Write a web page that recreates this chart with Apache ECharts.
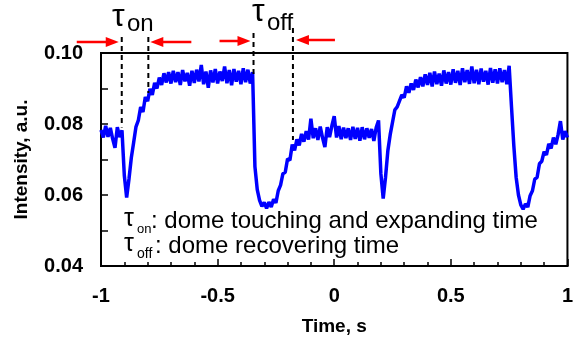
<!DOCTYPE html>
<html>
<head>
<meta charset="utf-8">
<script src="https://cdn.jsdelivr.net/npm/echarts@6/dist/echarts.min.js"></script>
<style>
  html, body { margin: 0; padding: 0; background: #fff; }
  #chartContainer { width: 576px; height: 341px; }
</style>
</head>
<body>
<div id="chartContainer"></div>
<script>
// time axis samples, s
const timeS = [
  -1.00, -0.99, -0.98, -0.97, -0.96, -0.95, -0.94, -0.93, -0.92, -0.91,
  -0.90, -0.89, -0.88, -0.87, -0.86, -0.85, -0.84, -0.83, -0.82, -0.81,
  -0.80, -0.79, -0.78, -0.77, -0.76, -0.75, -0.74, -0.73, -0.72, -0.71,
  -0.70, -0.69, -0.68, -0.67, -0.66, -0.65, -0.64, -0.63, -0.62, -0.61,
  -0.60, -0.59, -0.58, -0.57, -0.56, -0.55, -0.54, -0.53, -0.52, -0.51,
  -0.50, -0.49, -0.48, -0.47, -0.46, -0.45, -0.44, -0.43, -0.42, -0.41,
  -0.40, -0.39, -0.38, -0.37, -0.36, -0.35, -0.34, -0.33, -0.32, -0.31,
  -0.30, -0.29, -0.28, -0.27, -0.26, -0.25, -0.24, -0.23, -0.22, -0.21,
  -0.20, -0.19, -0.18, -0.17, -0.16, -0.15, -0.14, -0.13, -0.12, -0.11,
  -0.10, -0.09, -0.08, -0.07, -0.06, -0.05, -0.04, -0.03, -0.02, -0.01,
   0.00,  0.01,  0.02,  0.03,  0.04,  0.05,  0.06,  0.07,  0.08,  0.09,
   0.10,  0.11,  0.12,  0.13,  0.14,  0.15,  0.16,  0.17,  0.18,  0.19,
   0.20,  0.21,  0.22,  0.23,  0.24,  0.25,  0.26,  0.27,  0.28,  0.29,
   0.30,  0.31,  0.32,  0.33,  0.34,  0.35,  0.36,  0.37,  0.38,  0.39,
   0.40,  0.41,  0.42,  0.43,  0.44,  0.45,  0.46,  0.47,  0.48,  0.49,
   0.50,  0.51,  0.52,  0.53,  0.54,  0.55,  0.56,  0.57,  0.58,  0.59,
   0.60,  0.61,  0.62,  0.63,  0.64,  0.65,  0.66,  0.67,  0.68,  0.69,
   0.70,  0.71,  0.72,  0.73,  0.74,  0.75,  0.76,  0.77,  0.78,  0.79,
   0.80,  0.81,  0.82,  0.83,  0.84,  0.85,  0.86,  0.87,  0.88,  0.89,
   0.90,  0.91,  0.92,  0.93,  0.94,  0.95,  0.96,  0.97,  0.98,  0.99, 1.00
];

// intensity, a.u.
const intensity = [
  .0783, .0762, .0795, .0764, .0789, .0758, .0733, .0791, .0763, .0782,
  .0655, .0593, .0645, .0705, .0748, .0792, .0810, .0848, .0834, .0876,
  .0864, .0899, .0882, .0916, .0900, .0931, .0910, .0943, .0917, .0946,
  .0914, .0950, .0918, .0946, .0910, .0952, .0920, .0944, .0908, .0950,
  .0916, .0953, .0920, .0966, .0912, .0948, .0902, .0951, .0917, .0955,
  .0914, .0948, .0921, .0962, .0915, .0952, .0909, .0955, .0919, .0950,
  .0912, .0957, .0918, .0953, .0914, .0946, .0680, .0615, .0585, .0568,
  .0579, .0562, .0580, .0566, .0588, .0578, .0612, .0628, .0660, .0664,
  .0702, .0698, .0742, .0726, .0757, .0740, .0772, .0750, .0780, .0756,
  .0815, .0760, .0788, .0755, .0793, .0761, .0735, .0791, .0763, .0795,
  .0822, .0762, .0794, .0757, .0790, .0760, .0788, .0755, .0792, .0758,
  .0789, .0753, .0791, .0757, .0788, .0761, .0786, .0752, .0790, .0810,
  .0660, .0590, .0650, .0725, .0770, .0805, .0840, .0848, .0865, .0882,
  .0874, .0906, .0888, .0914, .0896, .0925, .0903, .0932, .0906, .0940,
  .0910, .0944, .0906, .0948, .0912, .0942, .0908, .0951, .0914, .0946,
  .0911, .0954, .0916, .0950, .0910, .0957, .0918, .0952, .0913, .0962,
  .0915, .0953, .0912, .0956, .0919, .0950, .0911, .0958, .0916, .0954,
  .0914, .0957, .0918, .0952, .0912, .0964, .0850, .0740, .0650, .0600,
  .0572, .0560, .0575, .0566, .0598, .0612, .0645, .0650, .0688, .0695,
  .0722, .0713, .0744, .0731, .0762, .0743, .0770, .0808, .0756, .0780, .0762
];

// marker times (s) and the intensity where each dashed line stops
const tauOnTimes = [-0.911, -0.797];
const tauOnEnds = [0.079, 0.0887];
const tauOffTimes = [-0.346, -0.177];
const tauOffEnds = [0.094, 0.0755];

const FONT = 'Liberation Sans, Arial, Helvetica, sans-serif';

const chart = echarts.init(document.getElementById('chartContainer'));

const option = {
    animation: false,
    grid: {
        left: 101, right: 1, top: 53, bottom: 75,
        show: true, borderColor: '#000', borderWidth: 2
    },
    xAxis: {
        type: 'value',
        min: -1, max: 1, interval: 0.5,
        name: 'Time, s',
        nameLocation: 'middle',
        nameGap: 51,
        nameTextStyle: { fontFamily: FONT, fontWeight: 'bold', fontSize: 19, color: '#000' },
        axisLine: { onZero: false, lineStyle: { color: '#000', width: 2 } },
        axisTick: { inside: true, length: 7, lineStyle: { color: '#000', width: 1.5 } },
        minorTick: { show: true, splitNumber: 5, length: 4, lineStyle: { color: '#000', width: 1.5 } },
        splitLine: { show: false },
        axisLabel: { fontFamily: FONT, fontWeight: 'bold', fontSize: 20, color: '#000', margin: 20 }
    },
    yAxis: {
        type: 'value',
        min: 0.04, max: 0.10, interval: 0.02,
        name: 'Intensity, a.u.',
        nameLocation: 'middle',
        nameGap: 70,
        nameTextStyle: { fontFamily: FONT, fontWeight: 'bold', fontSize: 19, color: '#000' },
        axisLine: { onZero: false, lineStyle: { color: '#000', width: 2 } },
        axisTick: { inside: true, length: 7, lineStyle: { color: '#000', width: 1.5 } },
        minorTick: { show: true, splitNumber: 2, length: 7, lineStyle: { color: '#000', width: 1.5 } },
        splitLine: { show: false },
        axisLabel: {
            fontFamily: FONT, fontWeight: 'bold', fontSize: 20, color: '#000', margin: 18,
            formatter: v => v.toFixed(2)
        }
    },
    series: [{
        type: 'line',
        data: timeS.map((t, i) => [t, intensity[i]]),
        showSymbol: false,
        lineStyle: { color: '#0000ff', width: 3.5 },
        z: 2
    }]
};

chart.setOption(option);

function toPx(t, v) {
    return chart.convertToPixel({ gridIndex: 0 }, [t, v]);
}

function dashed(t, endVal, topY) {
    const p = toPx(t, endVal);
    return {
        type: 'line', z: 10,
        shape: { x1: p[0], y1: topY, x2: p[0], y2: p[1] },
        style: { stroke: '#000', lineWidth: 2, lineDash: [5, 4] }
    };
}

function arrow(xFrom, xTo, y) {
    const dir = xTo > xFrom ? 1 : -1;
    return [
        { type: 'line', z: 10, shape: { x1: xFrom, y1: y, x2: xTo - dir * 10, y2: y },
          style: { stroke: '#ff0000', lineWidth: 2.5 } },
        { type: 'polygon', z: 10,
          shape: { points: [[xTo, y], [xTo - dir * 13, y - 5], [xTo - dir * 13, y + 5]] },
          style: { fill: '#ff0000' } }
    ];
}

function txt(x, y, s, size, weight) {
    return {
        type: 'text', z: 10, x: x, y: y,
        style: { text: s, fontFamily: FONT, fontSize: size, fontWeight: weight || 'normal',
                 fill: '#000', verticalAlign: 'middle', align: 'left' }
    };
}

const on0 = toPx(tauOnTimes[0], 0)[0];
const on1 = toPx(tauOnTimes[1], 0)[0];
const off0 = toPx(tauOffTimes[0], 0)[0];
const off1 = toPx(tauOffTimes[1], 0)[0];

const graphics = [
    dashed(tauOnTimes[0], tauOnEnds[0], 37),
    dashed(tauOnTimes[1], tauOnEnds[1], 37),
    dashed(tauOffTimes[0], tauOffEnds[0], 33),
    dashed(tauOffTimes[1], tauOffEnds[1], 28),
    ...arrow(on0 - 45, on0 - 3, 42),
    ...arrow(on1 + 43, on1 + 2, 42),
    ...arrow(off0 - 34, off0 - 3, 41),
    ...arrow(off1 + 42, off1 + 3, 40),
    txt(112, 17, 'τ', 32),
    txt(127, 24, 'on', 24),
    txt(252, 12, 'τ', 32),
    txt(267, 23, 'off', 24),
    txt(124, 219, 'τ', 25),
    txt(137, 229, 'on', 13),
    txt(151, 221, ': dome touching and expanding time', 24),
    txt(124, 244, 'τ', 25),
    txt(137, 254, 'off', 14),
    txt(155, 246, ': dome recovering time', 24)
];

chart.setOption({ graphic: graphics });
</script>
</body>
</html>
